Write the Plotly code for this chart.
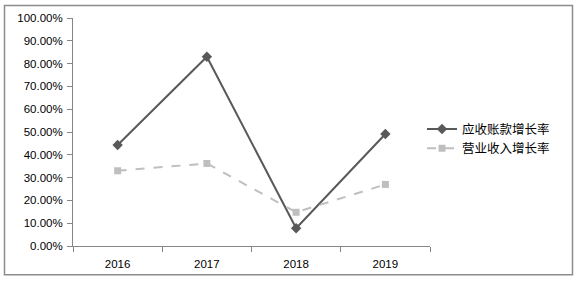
import plotly.graph_objects as go

years = ["2016", "2017", "2018", "2019"]
receivable_growth = [0.443, 0.830, 0.078, 0.491]
revenue_growth = [0.330, 0.362, 0.148, 0.270]
series_names = ["应收账款增长率", "营业收入增长率"]

fig = go.Figure()
fig.add_trace(go.Scatter(
    x=years, y=receivable_growth, name=series_names[0], mode="lines+markers",
    line=dict(color="#595959", width=2),
    marker=dict(symbol="diamond", size=8, color="#595959"),
))
fig.add_trace(go.Scatter(
    x=years, y=revenue_growth, name=series_names[1], mode="lines+markers",
    line=dict(color="#BFBFBF", width=2, dash="dash"),
    marker=dict(symbol="square", size=7, color="#BFBFBF"),
))

L, R, T, B = 73, 146, 17, 35
W, H = 576, 282
pw, ph = W - L - R, H - T - B

def px_x(p):
    return (p - L) / pw

def px_y(p):
    return (H - B - p) / ph

fig.add_shape(type="rect", xref="paper", yref="paper",
              x0=px_x(4.5), x1=px_x(572.5), y0=px_y(276), y1=px_y(4.5),
              line=dict(color="#8C8C8C", width=1.5), fillcolor="rgba(0,0,0,0)")

fig.update_layout(
    width=W, height=H,
    margin=dict(l=L, r=R, t=T, b=B),
    paper_bgcolor="white", plot_bgcolor="white",
    font=dict(family="Liberation Sans, Arial, sans-serif", size=11.5, color="black"),
    showlegend=True,
    legend=dict(x=px_x(422), y=px_y(139), xanchor="left", yanchor="middle",
                font=dict(family="Noto Sans CJK SC", size=12.5, color="black"),
                bgcolor="rgba(0,0,0,0)", tracegroupgap=0),
    xaxis=dict(type="category", range=[-0.5, 3.5], showgrid=False,
               showline=True, linecolor="#868686", linewidth=1,
               ticks="outside", tickson="boundaries", ticklen=5, tickcolor="#868686",
               ticklabelstandoff=7, tickfont=dict(size=11.5)),
    yaxis=dict(range=[0, 1.0], dtick=0.1, tickformat=".2%", showgrid=False,
               showline=True, linecolor="#868686", linewidth=1,
               ticks="outside", ticklen=5, tickcolor="#868686", zeroline=False,
               ticklabelstandoff=2, tickfont=dict(size=11.5)),
)

fig.write_html("out.html")
